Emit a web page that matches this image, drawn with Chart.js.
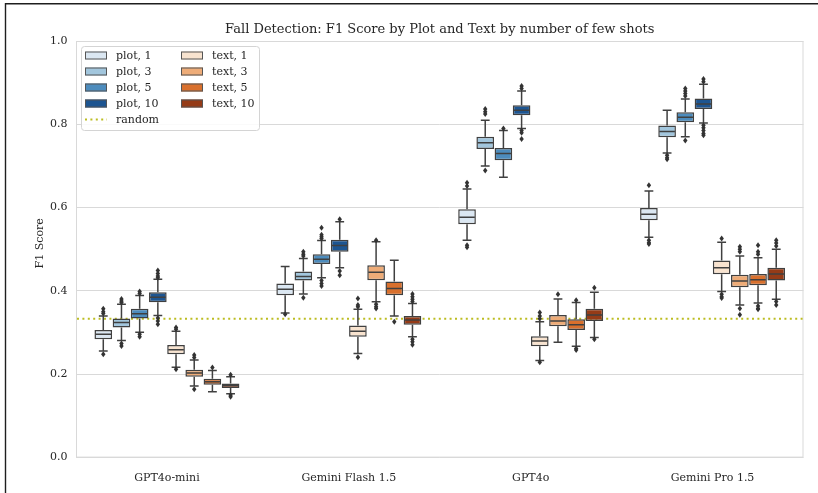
<!DOCTYPE html>
<html><head><meta charset="utf-8">
<script src="https://cdn.jsdelivr.net/npm/chart.js@4.4.0/dist/chart.umd.min.js"></script>
<style>html,body{margin:0;padding:0;background:#fff;overflow:hidden}#wrap{width:818px;height:493px;position:relative}</style>
</head><body><div id="wrap"><canvas id="c"></canvas></div>
<script>
const chartTitle = 'Fall Detection: F1 Score by Plot and Text by number of few shots';
const yAxisTitle = 'F1 Score';
const categories = ['GPT4o-mini', 'Gemini Flash 1.5', 'GPT4o', 'Gemini Pro 1.5'];
const seriesLabels = ['plot, 1', 'plot, 3', 'plot, 5', 'plot, 10', 'text, 1', 'text, 3', 'text, 5', 'text, 10'];
const seriesColors = ['#dbe7f2', '#a2c6dd', '#4d8cbd', '#1d5591', '#f8e3cf', '#eeac78', '#d9702d', '#953b17'];
const randomBaseline = 1 / 3;
const yTickValues = [0, 0.2, 0.4, 0.6, 0.8, 1.0];

// box stats per category: [lower whisker, Q1, median, Q3, upper whisker]
const plot1  = [[0.256,0.284,0.296,0.306,0.340],[0.347,0.390,0.404,0.418,0.459],[0.522,0.560,0.577,0.596,0.645],[0.529,0.570,0.584,0.599,0.640]];
const plot3  = [[0.281,0.312,0.324,0.334,0.368],[0.393,0.425,0.435,0.447,0.478],[0.700,0.741,0.756,0.770,0.810],[0.731,0.769,0.783,0.797,0.834]];
const plot5  = [[0.301,0.334,0.345,0.357,0.389],[0.432,0.465,0.476,0.488,0.521],[0.673,0.714,0.730,0.743,0.785],[0.770,0.805,0.817,0.829,0.861]];
const plot10 = [[0.341,0.373,0.385,0.397,0.428],[0.456,0.494,0.509,0.523,0.566],[0.790,0.822,0.834,0.846,0.880],[0.803,0.837,0.849,0.862,0.896]];
const text1  = [[0.217,0.248,0.259,0.270,0.303],[0.250,0.290,0.303,0.317,0.356],[0.233,0.267,0.280,0.291,0.326],[0.399,0.440,0.456,0.473,0.517]];
const text3  = [[0.172,0.194,0.203,0.211,0.234],[0.374,0.426,0.445,0.462,0.518],[0.277,0.315,0.328,0.342,0.381],[0.366,0.409,0.424,0.439,0.484]];
const text5  = [[0.158,0.175,0.182,0.189,0.209],[0.340,0.390,0.406,0.423,0.474],[0.267,0.306,0.319,0.332,0.372],[0.371,0.414,0.427,0.441,0.480]];
const text10 = [[0.153,0.167,0.173,0.178,0.194],[0.290,0.319,0.330,0.340,0.370],[0.288,0.328,0.342,0.357,0.397],[0.380,0.425,0.441,0.456,0.500]];

// outliers per category
const plot1Fliers  = [[0.357,0.350,0.346,0.248],[0.344],[0.660,0.652,0.510,0.505],[0.654,0.522,0.516,0.513]];
const plot3Fliers  = [[0.381,0.376,0.372,0.274,0.268],[0.494,0.488,0.484,0.384],[0.837,0.830,0.825,0.689],[0.726,0.720,0.716]];
const plot5Fliers  = [[0.399,0.394,0.296,0.290],[0.552,0.535,0.530,0.526,0.425,0.418,0.412],[0.790],[0.886,0.880,0.874,0.868,0.761]];
const plot10Fliers = [[0.449,0.442,0.436,0.432,0.335,0.328,0.320],[0.572,0.448,0.438],[0.892,0.886,0.785,0.780,0.765],[0.909,0.902,0.798,0.792,0.785,0.778,0.774]];
const text1Fliers  = [[0.312,0.308,0.212],[0.382,0.366,0.362,0.241],[0.348,0.340,0.333,0.229],[0.526,0.392,0.386,0.383]];
const text3Fliers  = [[0.246,0.240,0.164],[0.522,0.368,0.362,0.358],[0.392],[0.506,0.500,0.494,0.358,0.343]];
const text5Fliers  = [[0.216],[0.326],[0.378,0.262,0.258],[0.510,0.494,0.488,0.364,0.358,0.356]];
const text10Fliers = [[0.199,0.150,0.146],[0.393,0.386,0.380,0.375,0.284,0.278,0.271],[0.408,0.284],[0.522,0.515,0.508,0.375,0.366]];

const allStats  = [plot1, plot3, plot5, plot10, text1, text3, text5, text10];
const allFliers = [plot1Fliers, plot3Fliers, plot5Fliers, plot10Fliers, text1Fliers, text3Fliers, text5Fliers, text10Fliers];

const FONT = '"DejaVu Serif", serif';
const LINE = '#404040';
const TEXT = '#262626';
const GRID = '#d9d9d9';

const datasets = seriesLabels.map((lab, i) => ({
  label: lab,
  data: allStats[i].map(s => [s[1], s[3]]),
  stats: allStats[i],
  fliers: allFliers[i],
  backgroundColor: seriesColors[i],
  borderColor: LINE,
  borderWidth: 1.5,
  borderSkipped: false,
  categoryPercentage: 0.8,
  barPercentage: 0.97
}));

const boxPlugin = {
  id: 'boxExtras',
  beforeDraw(chart) {
    const ctx = chart.ctx;
    ctx.save();
    ctx.fillStyle = '#ffffff';
    ctx.fillRect(0, 0, chart.width, chart.height);
    ctx.strokeStyle = '#1e1e1e';
    ctx.lineWidth = 1.4;
    ctx.beginPath();
    ctx.moveTo(5.5, chart.height);
    ctx.lineTo(5.5, 3.8);
    ctx.lineTo(chart.width, 3.8);
    ctx.stroke();
    ctx.restore();
  },
  beforeDatasetsDraw(chart) {
    const {ctx, chartArea: a, scales: {y}} = chart;
    ctx.save();
    ctx.strokeStyle = GRID;
    ctx.lineWidth = 1;
    ctx.strokeRect(a.left + 0.5, a.top + 0.5, a.right - a.left - 1, a.bottom - a.top - 1);
    const yy = y.getPixelForValue(randomBaseline);
    ctx.strokeStyle = '#bcbd22';
    ctx.lineWidth = 2;
    ctx.setLineDash([2, 3.4]);
    ctx.beginPath();
    ctx.moveTo(a.left + 1, yy);
    ctx.lineTo(a.right, yy);
    ctx.stroke();
    ctx.restore();
  },
  afterDatasetsDraw(chart) {
    const {ctx, scales: {y}} = chart;
    const py = v => y.getPixelForValue(v);
    ctx.save();
    chart.data.datasets.forEach((ds, di) => {
      const meta = chart.getDatasetMeta(di);
      meta.data.forEach((bar, i) => {
        const s = ds.stats[i];
        const x = bar.x, w = bar.width;
        ctx.strokeStyle = LINE;
        ctx.lineWidth = 1.5;
        ctx.beginPath();
        ctx.moveTo(x, py(s[3])); ctx.lineTo(x, py(s[4]));
        ctx.moveTo(x, py(s[1])); ctx.lineTo(x, py(s[0]));
        ctx.moveTo(x - w / 4, py(s[4])); ctx.lineTo(x + w / 4, py(s[4]));
        ctx.moveTo(x - w / 4, py(s[0])); ctx.lineTo(x + w / 4, py(s[0]));
        ctx.moveTo(x - w / 2 + 1, py(s[2])); ctx.lineTo(x + w / 2 - 1, py(s[2]));
        ctx.stroke();
        ctx.fillStyle = '#333333';
        ds.fliers[i].forEach(v => {
          const fy = py(v);
          ctx.beginPath();
          ctx.moveTo(x, fy - 3);
          ctx.lineTo(x + 2.2, fy);
          ctx.lineTo(x, fy + 3);
          ctx.lineTo(x - 2.2, fy);
          ctx.closePath();
          ctx.fill();
        });
      });
    });
    ctx.restore();
  },
  afterDraw(chart) {
    const {ctx, chartArea: a} = chart;
    ctx.save();
    // title
    ctx.fillStyle = TEXT;
    ctx.font = '13px ' + FONT;
    ctx.textAlign = 'center';
    ctx.textBaseline = 'middle';
    ctx.fillText(chartTitle, (a.left + a.right) / 2, 30);
    // y axis title
    ctx.save();
    ctx.translate(40, (a.top + a.bottom) / 2 - 6);
    ctx.rotate(-Math.PI / 2);
    ctx.font = '11px ' + FONT;
    ctx.fillText(yAxisTitle, 0, 0);
    ctx.restore();
    // legend
    ctx.fillStyle = 'rgba(255,255,255,0.85)';
    ctx.strokeStyle = '#d4d4d4';
    ctx.lineWidth = 1;
    ctx.beginPath();
    ctx.roundRect(81.5, 46.5, 178, 84, 3);
    ctx.fill();
    ctx.stroke();
    ctx.font = '11px ' + FONT;
    ctx.textAlign = 'left';
    ctx.textBaseline = 'middle';
    const colX = [85, 181];
    const rowY = [55.5, 71.5, 87.5, 103.5, 119.5];
    chart.data.datasets.forEach((ds, di) => {
      const col = di < 4 ? 0 : 1;
      const row = di % 4;
      const sx = colX[col], sy = rowY[row];
      ctx.fillStyle = ds.backgroundColor;
      ctx.fillRect(sx, sy - 4, 22, 8);
      ctx.strokeStyle = '#555555';
      ctx.lineWidth = 1;
      ctx.strokeRect(sx + 0.5, sy - 3.5, 21, 7);
      ctx.fillStyle = TEXT;
      ctx.fillText(ds.label, sx + 31, sy + 0.5);
    });
    ctx.strokeStyle = '#bcbd22';
    ctx.lineWidth = 2;
    ctx.setLineDash([2, 3.4]);
    ctx.beginPath();
    ctx.moveTo(colX[0], rowY[4]);
    ctx.lineTo(colX[0] + 22, rowY[4]);
    ctx.stroke();
    ctx.setLineDash([]);
    ctx.fillStyle = TEXT;
    ctx.fillText('random', colX[0] + 31, rowY[4] + 0.5);
    ctx.restore();
  }
};

new Chart(document.getElementById('c'), {
  type: 'bar',
  data: { labels: categories, datasets },
  options: {
    responsive: true,
    maintainAspectRatio: false,
    animation: false,
    devicePixelRatio: 1,
    layout: { padding: { top: 41, right: 14.5, left: 0, bottom: 0 } },
    plugins: { legend: { display: false }, tooltip: { enabled: false }, title: { display: false } },
    scales: {
      x: {
        grid: { display: false },
        border: { display: false },
        ticks: { font: { family: FONT, size: 11 }, color: TEXT, padding: 6 },
        afterFit: s => { s.height = 35.4; }
      },
      y: {
        min: 0, max: 1,
        afterBuildTicks: s => { s.ticks = yTickValues.map(v => ({ value: v })); },
        grid: { color: GRID, drawTicks: false, lineWidth: 1 },
        border: { display: false },
        ticks: { font: { family: FONT, size: 11 }, color: TEXT, padding: 8.5, callback: v => Number(v).toFixed(1) },
        afterFit: s => { s.width = 76; }
      }
    }
  },
  plugins: [boxPlugin]
});
</script></body></html>
